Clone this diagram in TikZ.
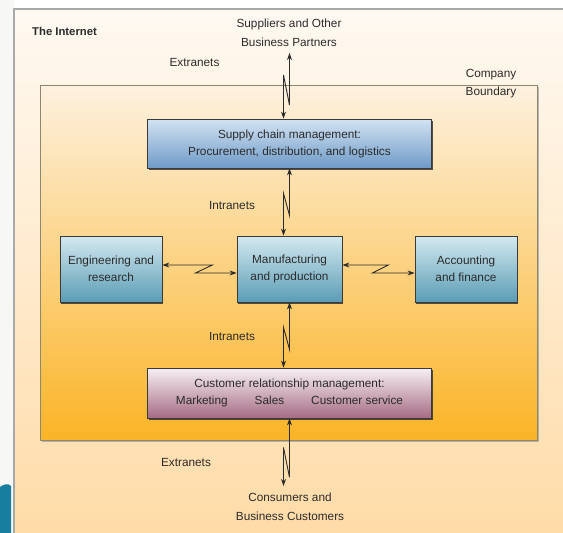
\documentclass[tikz,border=0pt]{standalone}
\usepackage{fontspec}
\setmainfont{Liberation Sans}
\usetikzlibrary{arrows.meta,calc,shadows}

\definecolor{ink}{HTML}{2B2B2B}
\definecolor{boxedge}{HTML}{3A3A3A}
\definecolor{frameedge}{HTML}{A9A9A9}
\definecolor{bndedge}{HTML}{8E8770}
\definecolor{netTop}{HTML}{FFF9F2}
\definecolor{netBot}{HTML}{FFDBA6}
\definecolor{coTop}{HTML}{FDF1DF}
\definecolor{coBot}{HTML}{FBB426}
\definecolor{scTop}{HTML}{D2E2F2}
\definecolor{scBot}{HTML}{6F9BC8}
\definecolor{tlTop}{HTML}{D3E9F0}
\definecolor{tlBot}{HTML}{5B9CB5}
\definecolor{crTop}{HTML}{F7F0F4}
\definecolor{crBot}{HTML}{A66C84}
\definecolor{slideTeal}{HTML}{177E9F}
\definecolor{stripBg}{HTML}{F7F7F6}

\begin{document}
\begin{tikzpicture}[x=1pt,y=-1pt,
  txt/.style={font=\fontsize{11.8}{17}\selectfont, text=ink, align=center, inner sep=0pt},
  box/.style={txt, draw=boxedge, line width=0.8pt,
    drop shadow={shadow xshift=1.2pt, shadow yshift=-1.8pt, fill=black!80, opacity=0.85}},
  bluebox/.style={box, top color=scTop, bottom color=scBot, minimum width=284pt, minimum height=49pt},
  tealbox/.style={box, top color=tlTop, bottom color=tlBot, minimum width=102pt, minimum height=66pt},
  mauvebox/.style={box, top color=crTop, bottom color=crBot, minimum width=284pt, minimum height=50pt},
  lbl/.style={txt, font=\fontsize{11.8}{19}\selectfont},
  link/.style={draw=ink, line width=0.9pt, line join=miter,
    {Stealth[length=7pt,width=5pt]}-{Stealth[length=7pt,width=5pt]}},
]
\useasboundingbox (0,0) rectangle (563,533);

% page, side strip and slide accent
\fill[white] (0,0) rectangle (563,533);
\fill[stripBg] (0,0) rectangle (14,533);
\fill[slideTeal] (0,533) -- (0,487) .. controls (4,484) and (8,483) .. (11,486) -- (11,533) -- cycle;

% the Internet area
\draw[frameedge, line width=1.2pt, top color=netTop, bottom color=netBot] (14,9) rectangle (575,545);
\node[txt, anchor=west, font=\fontsize{11.3}{14}\selectfont\bfseries] (internet) at (32,31) {The Internet};

% company boundary
\fill[black!45, opacity=0.6] (42,87) rectangle (539,442);
\draw[bndedge, line width=1pt, top color=coTop, bottom color=coBot] (40,85) rectangle (537,440);
\node[lbl, font=\fontsize{11.8}{18}\selectfont] (boundary) at (491,84) {Company\\Boundary};

% outside partners
\node[lbl] (suppliers) at (289,33) {Suppliers and Other\\Business Partners};
\node[lbl] (consumers) at (290,507) {Consumers and\\Business Customers};
\coordinate (supTip) at (289.5,53);
\coordinate (conTip) at (283.5,486);

% network labels
\node[lbl] (ext1) at (194.5,62) {Extranets};
\node[lbl] (int1) at (232,205) {Intranets};
\node[lbl] (int2) at (232,336) {Intranets};
\node[lbl] (ext2) at (186,462) {Extranets};

% business functions
\node[bluebox] (scm) at (289.5,143.5) {Supply chain management:\\Procurement, distribution, and logistics};
\node[tealbox] (eng) at (111,269) {Engineering and\\research};
\node[tealbox, minimum width=105pt] (mfg) at (289.5,269) {Manufacturing\\and production};
\node[tealbox] (acc) at (466,269) {Accounting\\and finance};
\node[mauvebox] (crm) at (289.5,393)
  {Customer relationship management:\\Marketing\hspace{27pt}Sales\hspace{27pt}Customer service};

% lightning-style links
\draw[link] (supTip) -- ++(0,52) -- ++(-6,-30) -- ($(scm.north)+(-6,0)$);
\draw[link] (scm.south) -- ++(0,47) -- ++(-6,-22) -- ($(mfg.north)+(-6,0)$);
\draw[link] (mfg.south) -- ++(0,47) -- ++(-6,-22) -- ($(crm.north)+(-6,0)$);
\draw[link] (crm.south) -- ++(0,59) -- ++(-6,-30) -- (conTip);
\draw[link] ($(eng.east)+(0,-4)$) -- ++(50,0) -- ++(-17,8) -- ($(mfg.west)+(0,4)$);
\draw[link] ($(mfg.east)+(0,-4)$) -- ++(46,0) -- ++(-16,8) -- ($(acc.west)+(0,4)$);
\end{tikzpicture}
\end{document}
